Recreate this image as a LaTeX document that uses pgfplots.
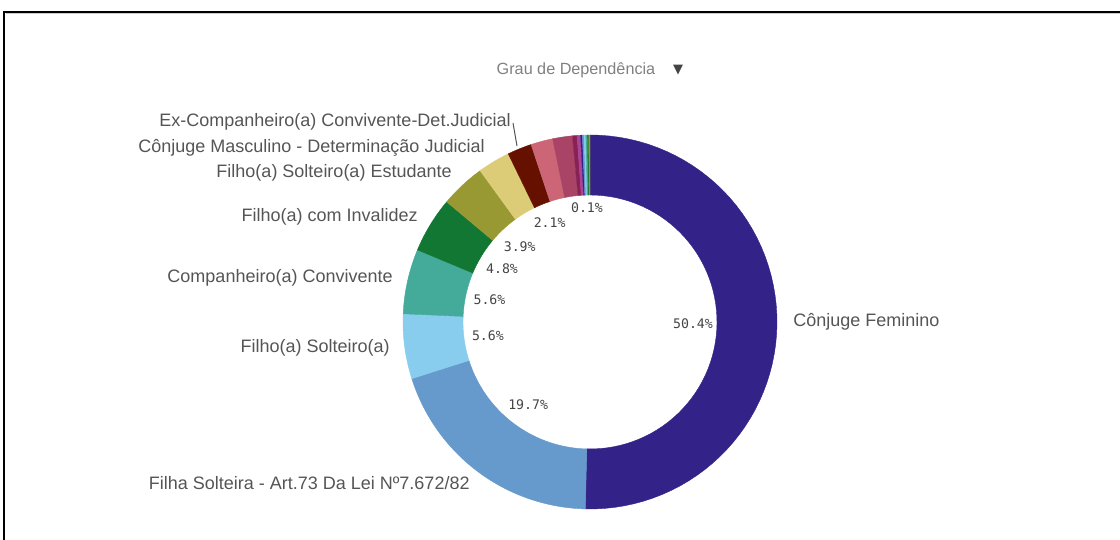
\documentclass[border=0pt]{standalone}
\usepackage{fontspec}
\setmainfont{Liberation Sans}
\newfontfamily\monofont{DejaVu Sans Mono}
\newfontfamily\symfont{DejaVu Sans}
\usepackage{pgfplots}
\pgfplotsset{compat=1.18}

\definecolor{c1}{HTML}{332288}
\definecolor{c2}{HTML}{6699CC}
\definecolor{c3}{HTML}{88CCEE}
\definecolor{c4}{HTML}{44AA99}
\definecolor{c5}{HTML}{117733}
\definecolor{c6}{HTML}{999933}
\definecolor{c7}{HTML}{DDCC77}
\definecolor{c8}{HTML}{661100}
\definecolor{c9}{HTML}{CC6677}
\definecolor{c10}{HTML}{AA4466}
\definecolor{c11}{HTML}{882255}
\definecolor{c12}{HTML}{AA4499}
\definecolor{txt}{HTML}{555555}
\definecolor{pcttxt}{HTML}{444444}
\definecolor{ttl}{HTML}{808080}
\definecolor{edge}{HTML}{AADCCD}

% donut: centre (590,218), outer radius 187, inner radius 127 (pixel units)
\def\cum{0}
\newcommand\slice[4]{% colour, value (%), label, label radius
  \pgfmathsetmacro\sa{90-3.6*\cum}%
  \pgfmathsetmacro\sb{90-3.6*(\cum+#2)}%
  \pgfmathsetmacro\am{90-3.6*(\cum+#2/2)}%
  \edef\temp{\noexpand\addplot[fill=#1, draw=#1, line width=0.2pt, domain=0:3, samples=181]
    ({590+rr(x)*cos(aa(x,\sa,\sb))},{218+rr(x)*sin(aa(x,\sa,\sb))}) -- cycle;}\temp
  \if\relax\detokenize{#3}\relax\else
    \pgfmathsetmacro\lx{590+#4*cos(\am)}%
    \pgfmathsetmacro\ly{218+#4*sin(\am)}%
    \edef\temp{\noexpand\node[pct] at (axis cs:\lx,\ly) {#3};}\temp
  \fi
  \pgfmathsetmacro\cumnew{\cum+#2}%
  \xdef\cum{\cumnew}%
}

\begin{document}
\begin{tikzpicture}[
  declare function={
    rr(\t)=(\t<=1) ? 187 : ((\t<=2) ? 187-60*(\t-1) : 127);
    aa(\t,\a,\b)=(\t<=1) ? \a+(\b-\a)*\t : ((\t<=2) ? \b : \b-(\b-\a)*(\t-2));
  },
  pct/.style={font=\monofont\fontsize{6.6}{7}\selectfont, text=pcttxt, inner sep=0pt},
  lab/.style={font=\fontsize{9}{10}\selectfont, text=txt, inner sep=0pt}
]
\begin{axis}[
  width=560pt, height=270pt, scale only axis,
  xmin=0, xmax=1120, ymin=0, ymax=540,
  hide axis, clip=false,
]
\slice{c1}{50.4}{50.4\%}{103}
\slice{c2}{19.7}{19.7\%}{103}
\slice{c3}{5.6}{5.6\%}{103}
\slice{c4}{5.6}{5.6\%}{103}
\slice{c5}{4.8}{4.8\%}{103}
\slice{c6}{3.9}{3.9\%}{103}
\slice{c7}{2.8}{}{0}
\slice{c8}{2.1}{2.1\%}{107}
\slice{c9}{1.9}{}{0}
\slice{c10}{1.7}{}{0}
\slice{c11}{0.4}{}{0}
\slice{c12}{0.3}{}{0}
\slice{c1}{0.15}{}{0}
\slice{c2}{0.15}{}{0}
\slice{c3}{0.15}{0.1\%}{114}
\slice{c4}{0.15}{}{0}
\slice{c5}{0.1}{}{0}
\slice{c6}{0.1}{}{0}

% category labels
\node[lab, anchor=west] at (axis cs:793,218) {Cônjuge Feminino};
\node[lab, anchor=east] at (axis cs:470,57) {Filha Solteira - Art.73 Da Lei Nº7.672/82};
\node[lab, anchor=east] at (axis cs:390,192) {Filho(a) Solteiro(a)};
\node[lab, anchor=east] at (axis cs:393,262) {Companheiro(a) Convivente};
\node[lab, anchor=east] at (axis cs:418,323) {Filho(a) com Invalidez};
\node[lab, anchor=east] at (axis cs:452,367) {Filho(a) Solteiro(a) Estudante};
\node[lab, anchor=east] at (axis cs:485,392) {Cônjuge Masculino - Determinação Judicial};
\node[lab, anchor=east] at (axis cs:511,418) {Ex-Companheiro(a) Convivente-Det.Judicial};
\draw[txt, line width=0.5pt] (axis cs:513,417) -- (axis cs:517,394);

% title
\node[font=\fontsize{8.1}{9}\selectfont, text=ttl, inner sep=0pt] at (axis cs:576,470) {Grau de Dependência};
\node[font=\symfont\fontsize{6.5}{7}\selectfont, text=pcttxt, inner sep=0pt] at (axis cs:678,470) {▼};

% frame
\draw[edge, line width=0.4pt] (axis cs:6,526.3) -- (axis cs:1120,526.3);
\draw[black, line width=1pt] (axis cs:3.5,0) -- (axis cs:3.5,528) -- (axis cs:1120,528);
\end{axis}
\pgfresetboundingbox
\useasboundingbox (0,0) rectangle (560pt,270pt);
\end{tikzpicture}
\end{document}
